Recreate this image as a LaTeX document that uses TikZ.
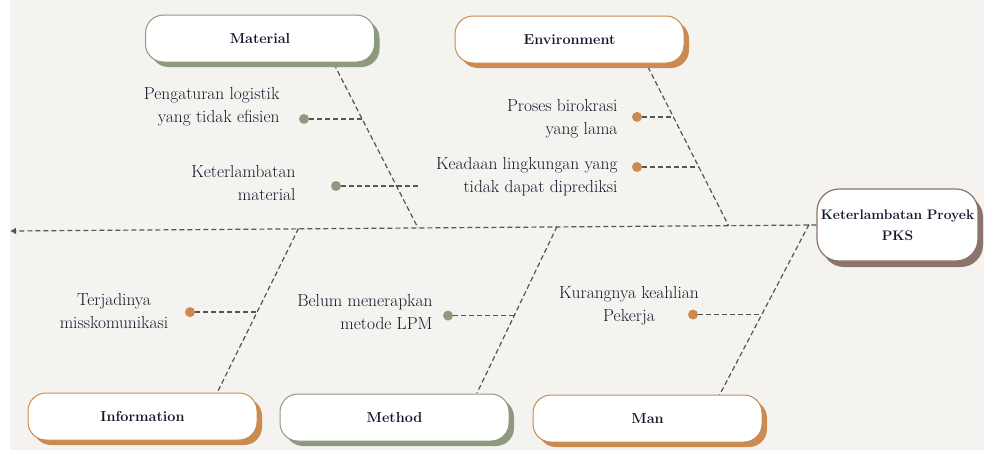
\documentclass[tikz,border=0pt]{standalone}
\usepackage{fontspec}
\usetikzlibrary{calc,shadows,arrows.meta}

\definecolor{paper}{HTML}{F4F3EF}
\definecolor{sage}{HTML}{8D9A7F}
\definecolor{clay}{HTML}{CB8A50}
\definecolor{umber}{HTML}{8C746C}
\definecolor{bonegray}{HTML}{555555}
\definecolor{ink}{HTML}{15152A}

\tikzset{
  catbox/.style={draw=#1,line width=1pt,fill=white,rounded corners=18pt,
    minimum width=229pt,minimum height=47pt,
    font=\fontsize{14.4}{17}\selectfont\bfseries,text=ink,
    drop shadow={shadow xshift=5pt,shadow yshift=-5pt,fill=#1,opacity=1}},
  bone/.style={draw=bonegray,line width=1.2pt,dash pattern=on 5pt off 3pt},
  cause/.style={font=\fontsize{17.4}{23}\selectfont,text=ink},
  dot/.style={circle,fill=#1,inner sep=0pt,minimum size=10pt},
}

\begin{document}
\begin{tikzpicture}[x=1pt,y=-1pt]
\useasboundingbox (0,0) rectangle (984,450);
\fill[paper] (10,0) rectangle (984,450);

% effect
\node[draw=umber,fill=white,rounded corners=22pt,line width=1.2pt,
  text width=161pt,inner xsep=0pt,minimum height=72pt,align=center,
  font=\fontsize{13.8}{21}\selectfont\bfseries,text=ink,
  drop shadow={shadow xshift=5pt,shadow yshift=-6pt,fill=umber,opacity=1}]
  (effect) at (897.5,225) {Keterlambatan Proyek\\PKS};

% spine
\coordinate (tail) at (10,231);
\draw[bone,-{Latex[length=6pt,width=7pt]}] (effect.west) -- (tail);

% bones
\coordinate (mtop) at (334,64);
\coordinate (mfoot) at (418,228);
\coordinate (etop) at (648,67);
\coordinate (efoot) at (728.5,225.5);
\coordinate (ifoot) at (298.5,228.5);
\coordinate (itop) at (217,393);
\coordinate (kfoot) at (557,226.5);
\coordinate (ktop) at (477,393);
\coordinate (pfoot) at (809,224.5);
\coordinate (ptop) at (719,396);

\path[bone]
(mtop) edge (mfoot)
(etop) edge (efoot)
(ifoot) edge (itop)
(kfoot) edge (ktop)
(pfoot) edge (ptop);

% sub causes
\coordinate (m1) at ($(mtop)!0.335!(mfoot)$);
\coordinate (m2) at (420,186);
\coordinate (e1) at ($(etop)!0.315!(efoot)$);
\coordinate (e2) at ($(etop)!0.631!(efoot)$);
\coordinate (i1) at ($(ifoot)!0.508!(itop)$);
\coordinate (k1) at ($(kfoot)!0.535!(ktop)$);
\coordinate (p1) at ($(pfoot)!0.525!(ptop)$);

\node[dot=sage] (dm1) at (304,0 |- m1) {};
\node[dot=sage] (dm2) at (336,0 |- m2) {};
\node[dot=clay] (de1) at (637,0 |- e1) {};
\node[dot=clay] (de2) at (637,0 |- e2) {};
\node[dot=clay] (di1) at (190,0 |- i1) {};
\node[dot=sage] (dk1) at (448,0 |- k1) {};
\node[dot=clay] (dp1) at (693,0 |- p1) {};

\path[bone]
(dm1) edge (m1)
(dm2) edge (m2)
(de1) edge (e1)
(de2) edge (e2)
(di1) edge (i1)
(dk1) edge (k1)
(dp1) edge (p1);

\node[cause,align=right,anchor=east] (c1) at (283,107) {Pengaturan logistik\\yang tidak efisien};
\node[cause,align=right,anchor=east] (c2) at (299,183.5) {Keterlambatan\\material};
\node[cause,align=right,anchor=east] (c3) at (621,119) {Proses birokrasi\\yang lama};
\node[cause,align=right,anchor=east] (c4) at (621,176.5) {Keadaan lingkungan yang\\tidak dapat diprediksi};
\node[cause,align=center] (c5) at (114,311) {Terjadinya\\misskomunikasi};
\node[cause,align=right,anchor=east] (c6) at (436,312) {Belum menerapkan\\metode LPM};
\node[cause,align=center] (c7) at (629,306) {Kurangnya keahlian\\Pekerja};

% categories
\node[catbox=sage] (material) at (260,38.5) {Material};
\node[catbox=clay] (environment) at (569.5,39.5) {Environment};
\node[catbox=clay] (information) at (142.5,416.5) {Information};
\node[catbox=sage] (method) at (394.5,417.5) {Method};
\node[catbox=clay] (man) at (647.5,418.5) {Man};

\end{tikzpicture}
\end{document}
